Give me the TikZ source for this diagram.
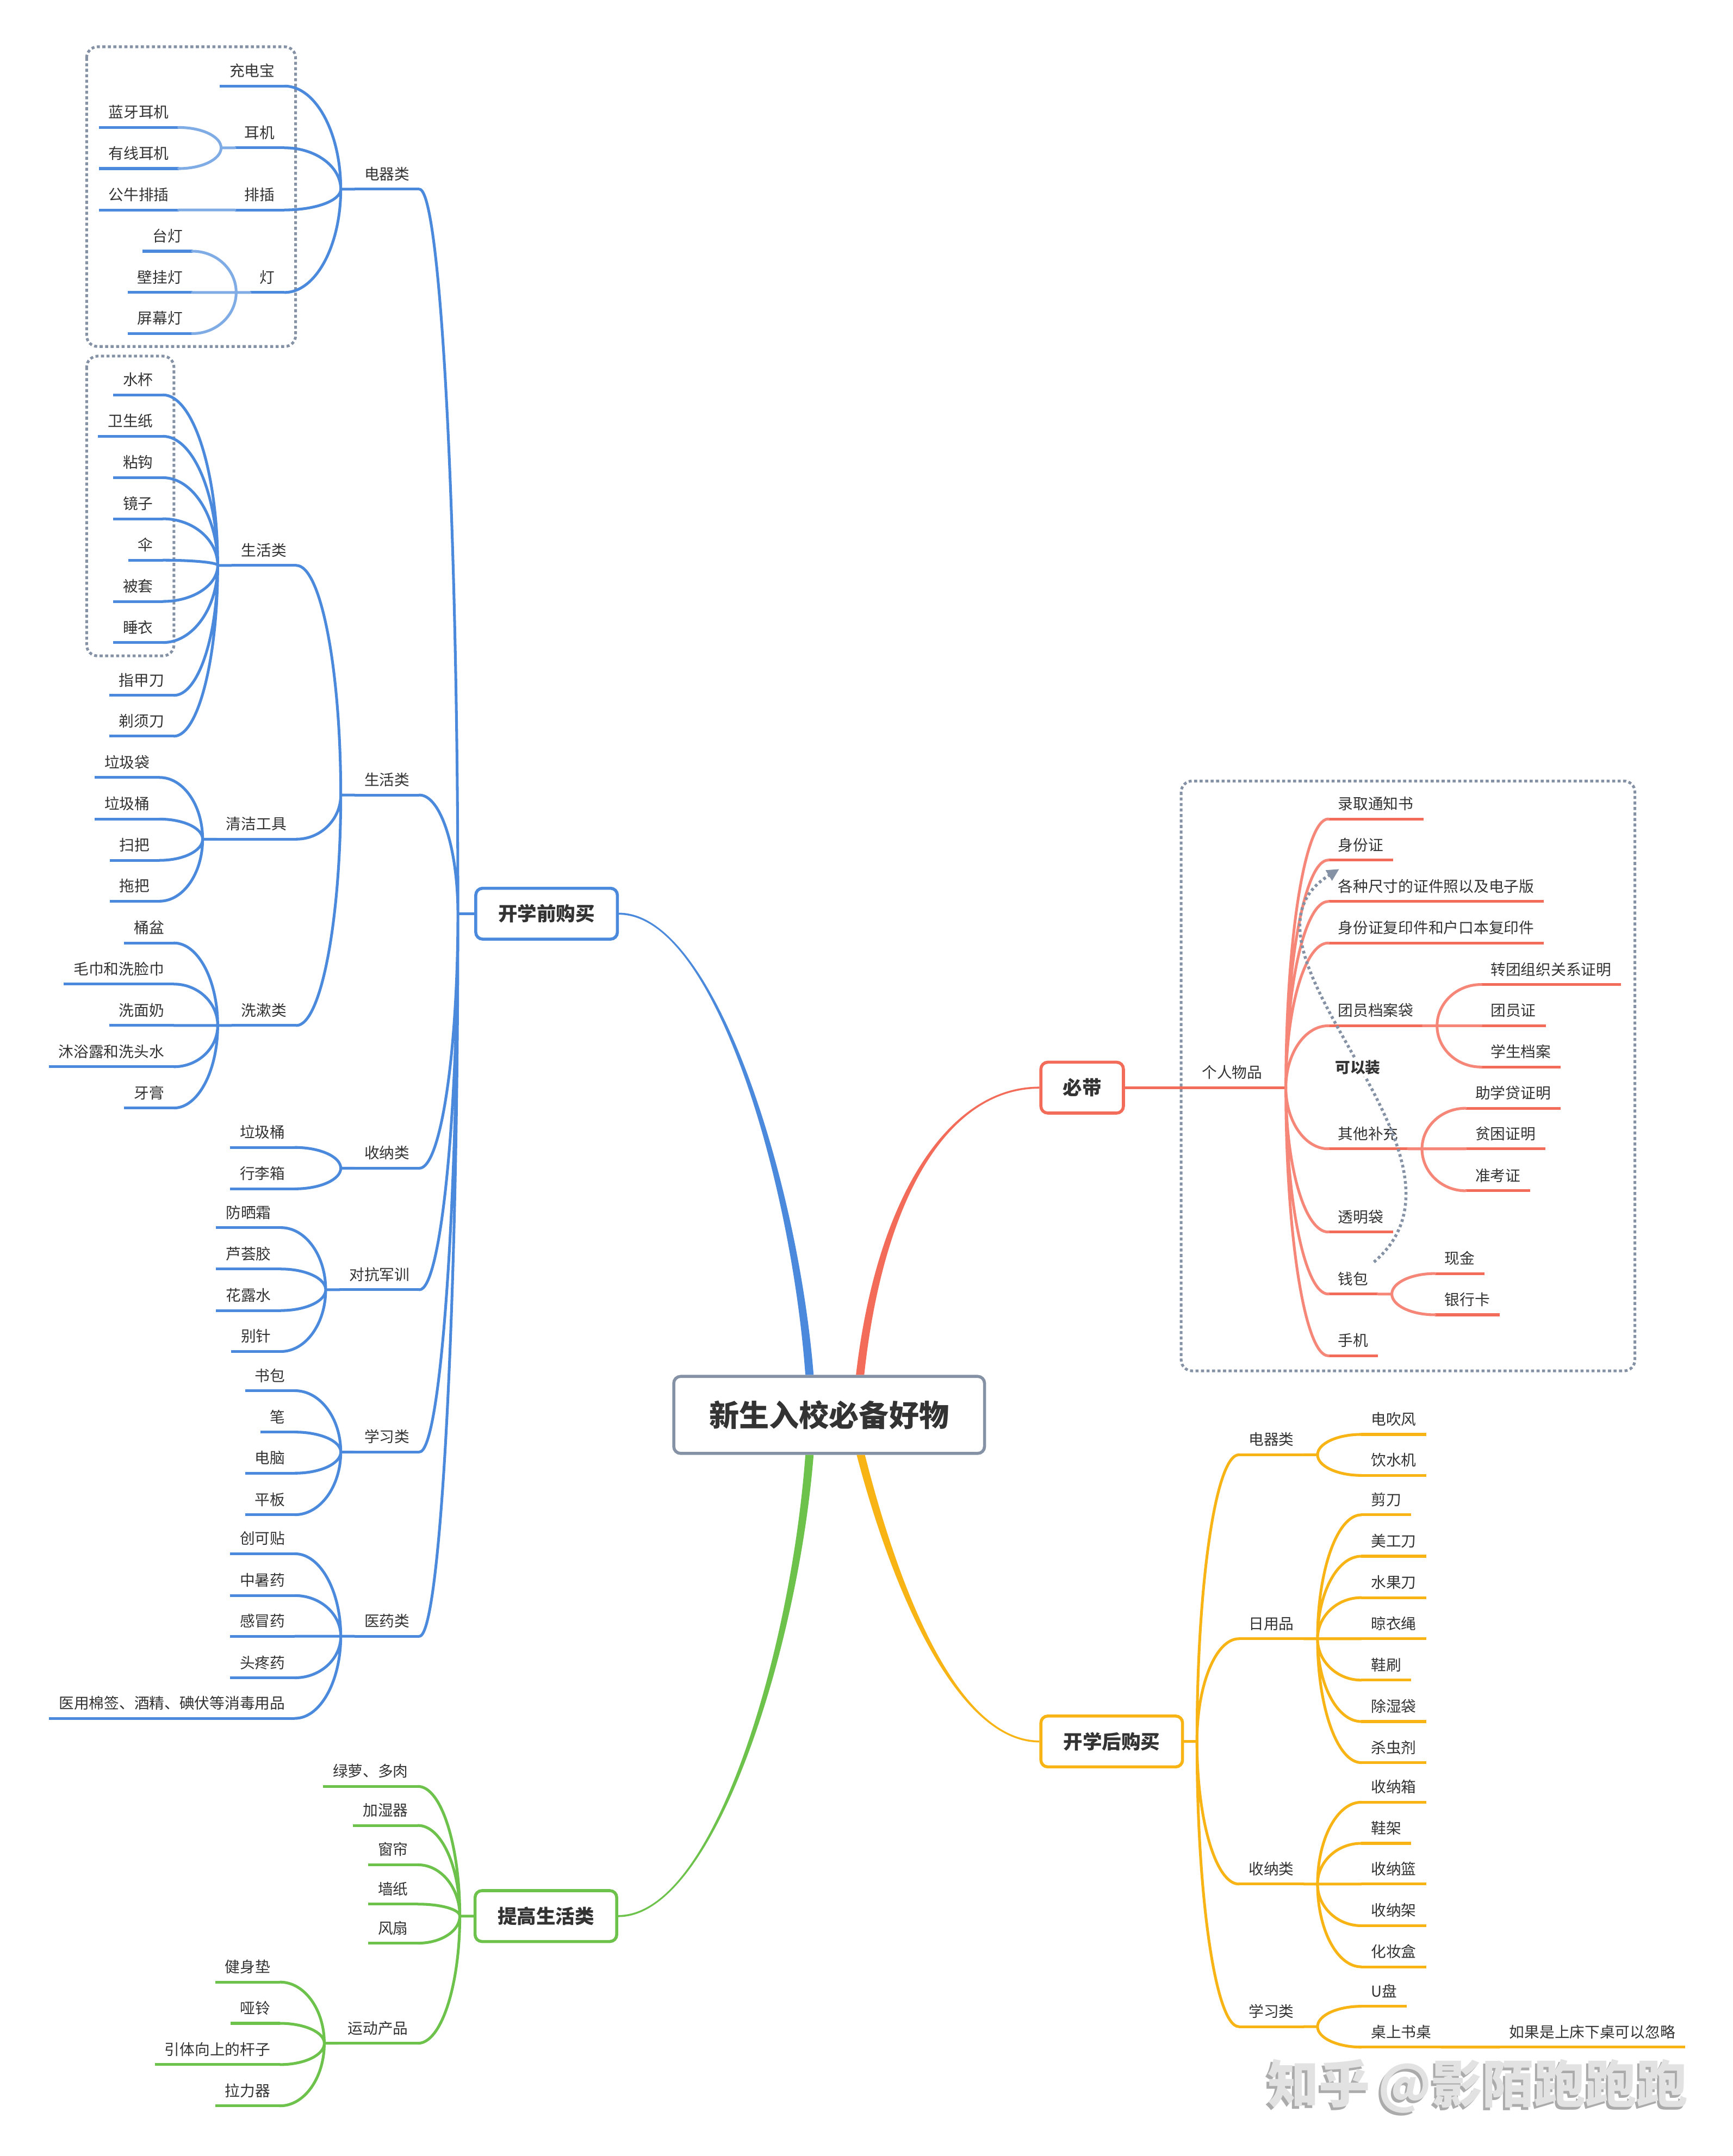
\documentclass[tikz,border=0pt]{standalone}
\usepackage{fontspec}
\setmainfont{Noto Sans CJK SC}
\usetikzlibrary{calc,arrows.meta}

\definecolor{ink}{HTML}{333333}
\definecolor{framegray}{HTML}{8592A6}
\definecolor{bluebr}{HTML}{4A89DC}
\definecolor{redbr}{HTML}{F36C5A}
\definecolor{yellowbr}{HTML}{F7B414}
\definecolor{greenbr}{HTML}{6CC24A}
\colorlet{bluesoft}{bluebr!70!white}
\colorlet{redsoft}{redbr!82!white}
\definecolor{markface}{HTML}{E2E2E2}
\definecolor{markshade}{HTML}{ABABAB}

\newcommand{\leaffont}{\fontsize{15.6}{18}\selectfont}

\tikzset{
  under/.style={draw=#1, line width=1mm},
  twig/.style={draw=#1, line width=1mm, line cap=round},
  leaf/.style={inner xsep=3.5mm, inner ysep=0pt, text height=4.6mm, text depth=3.4mm,
    text=ink, font=\leaffont,
    append after command={(\tikzlastnode.south west) edge[under=#1] (\tikzlastnode.south east)}},
  curvy/.style={to path={.. controls ($(\tikztostart)!0.55!(\tikztostart|-\tikztotarget)$)
    and ($(\tikztotarget)!0.55!(\tikztostart|-\tikztotarget)$) .. (\tikztotarget)}},
  mainbox/.style={draw=#1, line width=1.1mm, rounded corners=2.5mm, fill=white,
    minimum height=18.5mm, inner sep=0pt, text=ink, font=\fontsize{20}{24}\selectfont\bfseries},
  rootbox/.style={draw=framegray, line width=1.1mm, rounded corners=2.5mm, fill=white,
    minimum width=113mm, minimum height=28mm, inner sep=0pt, text=ink,
    font=\fontsize{31}{36}\selectfont\bfseries},
  boundary/.style={draw=framegray, line width=1mm, dash pattern=on 1.1mm off 0.9mm, rounded corners=4mm},
  relation/.style={draw=framegray, line width=1.1mm, dash pattern=on 1mm off 1mm,
    -{Triangle[length=4.5mm,width=4.2mm]}},
  mark/.style={font=\fontsize{53}{60}\selectfont\bfseries, text=#1}
}

\begin{document}
\begin{tikzpicture}[x=0.5mm, y=-0.5mm]
\fill[white] (0,0) rectangle (1260,1568);
\useasboundingbox (0,0) rectangle (1260,1568);

% dotted frames
\draw[boundary] (63,34) rectangle (215,252);
\draw[boundary] (63,259) rectangle (126.5,477);
\draw[boundary] (859,568) rectangle (1189,997);

% centre and main topics
\node[rootbox] (root) at (603,1029) {新生入校必备好物};
\node[mainbox=bluebr, minimum width=51.5mm] (pre) at (397.5,664.5) {开学前购买};
\node[mainbox=redbr, minimum width=30mm] (bd) at (787,791) {必带};
\node[mainbox=yellowbr, minimum width=51.5mm] (hg) at (808.5,1266.5) {开学后购买};
\node[mainbox=greenbr, minimum width=51.5mm] (tg) at (397,1393.5) {提高生活类};

% tapered trunks
\fill[bluebr] ($(root.north)+(-17.3,0)$) .. controls (575.5,860) and (520,665.2) .. ($(pre.east)+(0,0.7)$)
  -- ($(pre.east)+(0,-0.7)$) .. controls (520,663.8) and (580.5,860) .. ($(root.north)+(-11.3,0)$) -- cycle;
\fill[redbr] ($(root.north)+(19.5,0)$) .. controls (637.5,870) and (690,790.3) .. ($(bd.west)+(0,-0.7)$)
  -- ($(bd.west)+(0,0.7)$) .. controls (690,791.7) and (642.5,870) .. ($(root.north)+(25.5,0)$) -- cycle;
\fill[yellowbr] ($(root.south)+(26,0)$) .. controls (657.5,1170) and (700,1265.8) .. ($(hg.west)+(0,-0.7)$)
  -- ($(hg.west)+(0,0.7)$) .. controls (700,1267.2) and (652.5,1170) .. ($(root.south)+(20,0)$) -- cycle;
\fill[greenbr] ($(root.south)+(-11.3,0)$) .. controls (580.5,1198) and (520,1394.2) .. ($(tg.east)+(0,0.7)$)
  -- ($(tg.east)+(0,-0.7)$) .. controls (520,1392.8) and (575.5,1198) .. ($(root.south)+(-17.3,0)$) -- cycle;

% ---------- 开学前购买 ----------
\coordinate (preJ) at (333,664.5);
\node[leaf=bluebr, anchor=south east] (dqc) at (305,137.6) {电器类};
\node[leaf=bluebr, anchor=south east] (shc) at (305,578.2) {生活类};
\node[leaf=bluebr, anchor=south east] (snc) at (305,849.6) {收纳类};
\node[leaf=bluebr, anchor=south east] (dkc) at (305,938) {对抗军训};
\node[leaf=bluebr, anchor=south east] (xxc) at (305,1056) {学习类};
\node[leaf=bluebr, anchor=south east] (yyc) at (305,1190) {医药类};
\draw[twig=bluebr] (pre.west) -- (preJ)
  (preJ) to[curvy] (dqc.south east) (preJ) to[curvy] (shc.south east)
  (preJ) to[curvy] (snc.south east) (preJ) to[curvy] (dkc.south east)
  (preJ) to[curvy] (xxc.south east) (preJ) to[curvy] (yyc.south east);

% 电器类
\node[leaf=bluebr, anchor=south east] (cdb) at (207,62.6) {充电宝};
\node[leaf=bluebr, anchor=south east] (ej) at (207,107.5) {耳机};
\node[leaf=bluebr, anchor=south east] (pc) at (207,152.7) {排插};
\node[leaf=bluebr, anchor=south east] (dg) at (207,212.7) {灯};
\node[leaf=bluebr, anchor=south east] (lyej) at (130,92.7) {蓝牙耳机};
\node[leaf=bluebr, anchor=south east] (yxej) at (130,122.6) {有线耳机};
\node[leaf=bluebr, anchor=south east] (gnpc) at (130,152.7) {公牛排插};
\node[leaf=bluebr, anchor=south east] (tdg) at (140,182.7) {台灯};
\node[leaf=bluebr, anchor=south east] (bgd) at (140,212.7) {壁挂灯};
\node[leaf=bluebr, anchor=south east] (pmd) at (140,242.6) {屏幕灯};
\coordinate (dqJ) at ([xshift=-5mm]dqc.south west);
\coordinate (ejJ) at ([xshift=-5mm]ej.south west);
\coordinate (pcJ) at ([xshift=-5mm]pc.south west);
\coordinate (dgJ) at ([xshift=-5mm]dg.south west);
\draw[twig=bluebr] (dqc.south west) -- (dqJ)
  (dqJ) to[curvy] (cdb.south east) (dqJ) to[curvy] (ej.south east)
  (dqJ) to[curvy] (pc.south east) (dqJ) to[curvy] (dg.south east);
\draw[twig=bluesoft] (ej.south west) -- (ejJ)
  (ejJ) to[curvy] (lyej.south east) (ejJ) to[curvy] (yxej.south east)
  (pc.south west) -- (pcJ) to[curvy] (gnpc.south east)
  (dg.south west) -- (dgJ)
  (dgJ) to[curvy] (tdg.south east) (dgJ) to[curvy] (bgd.south east) (dgJ) to[curvy] (pmd.south east);

% 生活类
\node[leaf=bluebr, anchor=south east] (shs) at (215.5,411.2) {生活类};
\node[leaf=bluebr, anchor=south east] (qj) at (215.5,610.3) {清洁工具};
\node[leaf=bluebr, anchor=south east] (xs) at (215.5,745.8) {洗漱类};
\coordinate (shcJ) at ([xshift=-5mm]shc.south west);
\draw[twig=bluebr] (shc.south west) -- (shcJ)
  (shcJ) to[curvy] (shs.south east) (shcJ) to[curvy] (qj.south east) (shcJ) to[curvy] (xs.south east);

\node[leaf=bluebr, anchor=south east] (sb) at (118.5,287.2) {水杯};
\node[leaf=bluebr, anchor=south east] (wsz) at (118.5,317.3) {卫生纸};
\node[leaf=bluebr, anchor=south east] (zg) at (118.5,347.4) {粘钩};
\node[leaf=bluebr, anchor=south east] (jzi) at (118.5,377.3) {镜子};
\node[leaf=bluebr, anchor=south east] (san) at (118.5,407.4) {伞};
\node[leaf=bluebr, anchor=south east] (btao) at (118.5,437.4) {被套};
\node[leaf=bluebr, anchor=south east] (syi) at (118.5,467.3) {睡衣};
\node[leaf=bluebr, anchor=south east] (zjd) at (126.5,505.7) {指甲刀};
\node[leaf=bluebr, anchor=south east] (txd) at (126.5,535.4) {剃须刀};
\coordinate (shsJ) at ([xshift=-5mm]shs.south west);
\draw[twig=bluebr] (shs.south west) -- (shsJ)
  (shsJ) to[curvy] (sb.south east) (shsJ) to[curvy] (wsz.south east)
  (shsJ) to[curvy] (zg.south east) (shsJ) to[curvy] (jzi.south east)
  (shsJ) to[curvy] (san.south east) (shsJ) to[curvy] (btao.south east)
  (shsJ) to[curvy] (syi.south east) (shsJ) to[curvy] (zjd.south east)
  (shsJ) to[curvy] (txd.south east);

\node[leaf=bluebr, anchor=south east] (ljd) at (116,565.4) {垃圾袋};
\node[leaf=bluebr, anchor=south east] (ljt) at (116,595.7) {垃圾桶};
\node[leaf=bluebr, anchor=south east] (sbz) at (116,625.7) {扫把};
\node[leaf=bluebr, anchor=south east] (tbz) at (116,655.4) {拖把};
\coordinate (qjJ) at ([xshift=-5mm]qj.south west);
\draw[twig=bluebr] (qj.south west) -- (qjJ)
  (qjJ) to[curvy] (ljd.south east) (qjJ) to[curvy] (ljt.south east)
  (qjJ) to[curvy] (sbz.south east) (qjJ) to[curvy] (tbz.south east);

\node[leaf=bluebr, anchor=south east] (tp) at (126.5,685.8) {桶盆};
\node[leaf=bluebr, anchor=south east] (mj) at (126.5,715.7) {毛巾和洗脸巾};
\node[leaf=bluebr, anchor=south east] (xmn) at (126.5,745.8) {洗面奶};
\node[leaf=bluebr, anchor=south east] (myl) at (126.5,775.8) {沐浴露和洗头水};
\node[leaf=bluebr, anchor=south east] (yg) at (126.5,805.8) {牙膏};
\coordinate (xsJ) at ([xshift=-5mm]xs.south west);
\draw[twig=bluebr] (xs.south west) -- (xsJ)
  (xsJ) to[curvy] (tp.south east) (xsJ) to[curvy] (mj.south east)
  (xsJ) to[curvy] (xmn.south east) (xsJ) to[curvy] (myl.south east)
  (xsJ) to[curvy] (yg.south east);

% 收纳类
\node[leaf=bluebr, anchor=south east] (sljt) at (214.5,834.5) {垃圾桶};
\node[leaf=bluebr, anchor=south east] (xlx) at (214.5,864.6) {行李箱};
\coordinate (sncJ) at ([xshift=-5mm]snc.south west);
\draw[twig=bluebr] (snc.south west) -- (sncJ)
  (sncJ) to[curvy] (sljt.south east) (sncJ) to[curvy] (xlx.south east);

% 对抗军训
\node[leaf=bluebr, anchor=south east] (fsh) at (204.3,892.8) {防晒霜};
\node[leaf=bluebr, anchor=south east] (lhj) at (204.3,922.9) {芦荟胶};
\node[leaf=bluebr, anchor=south east] (hls) at (204.3,953.1) {花露水};
\node[leaf=bluebr, anchor=south east] (bzh) at (204.3,982.9) {别针};
\coordinate (dkcJ) at ([xshift=-5mm]dkc.south west);
\draw[twig=bluebr] (dkc.south west) -- (dkcJ)
  (dkcJ) to[curvy] (fsh.south east) (dkcJ) to[curvy] (lhj.south east)
  (dkcJ) to[curvy] (hls.south east) (dkcJ) to[curvy] (bzh.south east);

% 学习类
\node[leaf=bluebr, anchor=south east] (shb) at (214.5,1011.4) {书包};
\node[leaf=bluebr, anchor=south east] (bi) at (214.5,1041.5) {笔};
\node[leaf=bluebr, anchor=south east] (dn) at (214.5,1071.4) {电脑};
\node[leaf=bluebr, anchor=south east] (pbn) at (214.5,1101.6) {平板};
\coordinate (xxcJ) at ([xshift=-5mm]xxc.south west);
\draw[twig=bluebr] (xxc.south west) -- (xxcJ)
  (xxcJ) to[curvy] (shb.south east) (xxcJ) to[curvy] (bi.south east)
  (xxcJ) to[curvy] (dn.south east) (xxcJ) to[curvy] (pbn.south east);

% 医药类
\node[leaf=bluebr, anchor=south east] (ckt) at (214.5,1130) {创可贴};
\node[leaf=bluebr, anchor=south east] (zsy) at (214.5,1160.4) {中暑药};
\node[leaf=bluebr, anchor=south east] (gmy) at (214.5,1190) {感冒药};
\node[leaf=bluebr, anchor=south east] (tty) at (214.5,1220.2) {头疼药};
\node[leaf=bluebr, anchor=south east] (xdyp) at (214.5,1249.7) {医用棉签、酒精、碘伏等消毒用品};
\coordinate (yycJ) at ([xshift=-5mm]yyc.south west);
\draw[twig=bluebr] (yyc.south west) -- (yycJ)
  (yycJ) to[curvy] (ckt.south east) (yycJ) to[curvy] (zsy.south east)
  (yycJ) to[curvy] (gmy.south east) (yycJ) to[curvy] (tty.south east)
  (yycJ) to[curvy] (xdyp.south east);

% ---------- 提高生活类 ----------
\coordinate (tgJ) at (334.4,1393.5);
\node[leaf=greenbr, anchor=south east] (ll) at (304,1299.2) {绿萝、多肉};
\node[leaf=greenbr, anchor=south east] (jsq) at (304,1327.6) {加湿器};
\node[leaf=greenbr, anchor=south east] (cl) at (304,1356.2) {窗帘};
\node[leaf=greenbr, anchor=south east] (qzh) at (304,1384.8) {墙纸};
\node[leaf=greenbr, anchor=south east] (fsn) at (304,1413.2) {风扇};
\node[leaf=greenbr, anchor=south east] (ydc) at (304,1486) {运动产品};
\draw[twig=greenbr] (tg.west) -- (tgJ)
  (tgJ) to[curvy] (ll.south east) (tgJ) to[curvy] (jsq.south east)
  (tgJ) to[curvy] (cl.south east) (tgJ) to[curvy] (qzh.south east)
  (tgJ) to[curvy] (fsn.south east) (tgJ) to[curvy] (ydc.south east);
\node[leaf=greenbr, anchor=south east] (jsd) at (203.7,1441.5) {健身垫};
\node[leaf=greenbr, anchor=south east] (yl) at (203.7,1471.5) {哑铃};
\node[leaf=greenbr, anchor=south east] (ytg) at (203.7,1501.5) {引体向上的杆子};
\node[leaf=greenbr, anchor=south east] (llq) at (203.7,1531.5) {拉力器};
\coordinate (ydcJ) at ([xshift=-5mm]ydc.south west);
\draw[twig=greenbr] (ydc.south west) -- (ydcJ)
  (ydcJ) to[curvy] (jsd.south east) (ydcJ) to[curvy] (yl.south east)
  (ydcJ) to[curvy] (ytg.south east) (ydcJ) to[curvy] (llq.south east);

% ---------- 必带 ----------
\node[leaf=redbr, anchor=south west] (grwp) at (867,791) {个人物品};
\coordinate (grJ) at ([xshift=5mm]grwp.south east);
\draw[twig=redbr] (bd.east) -- (grJ);
\node[leaf=redbr, anchor=south west] (lqtz) at (966,595.6) {录取通知书};
\node[leaf=redbr, anchor=south west] (sfz) at (966,625.5) {身份证};
\node[leaf=redbr, anchor=south west] (zjz) at (966,655.6) {各种尺寸的证件照以及电子版};
\node[leaf=redbr, anchor=south west] (fyj) at (966,685.8) {身份证复印件和户口本复印件};
\node[leaf=redbr, anchor=south west] (tyda) at (966,746) {团员档案袋};
\node[leaf=redbr, anchor=south west] (qtbc) at (966,835.5) {其他补充};
\node[leaf=redbr, anchor=south west] (tmd) at (966,896) {透明袋};
\node[leaf=redbr, anchor=south west] (qb) at (966,941.1) {钱包};
\node[leaf=redbr, anchor=south west] (sj) at (966,986) {手机};
\draw[twig=redsoft] (grJ) to[curvy] (lqtz.south west) (grJ) to[curvy] (sfz.south west)
  (grJ) to[curvy] (zjz.south west) (grJ) to[curvy] (fyj.south west)
  (grJ) to[curvy] (tyda.south west) (grJ) to[curvy] (qtbc.south west)
  (grJ) to[curvy] (tmd.south west) (grJ) to[curvy] (qb.south west)
  (grJ) to[curvy] (sj.south west);

\node[leaf=redbr, anchor=south west] (ztzm) at (1077,716) {转团组织关系证明};
\node[leaf=redbr, anchor=south west] (tyz) at (1077,746) {团员证};
\node[leaf=redbr, anchor=south west] (xsda) at (1077,776) {学生档案};
\coordinate (tydaJ) at ([xshift=5mm]tyda.south east);
\draw[twig=redsoft] (tyda.south east) -- (tydaJ)
  (tydaJ) to[curvy] (ztzm.south west) (tydaJ) to[curvy] (tyz.south west) (tydaJ) to[curvy] (xsda.south west);

\node[leaf=redbr, anchor=south west] (zxd) at (1065.8,806) {助学贷证明};
\node[leaf=redbr, anchor=south west] (pkzm) at (1065.8,835.5) {贫困证明};
\node[leaf=redbr, anchor=south west] (zkz) at (1065.8,866) {准考证};
\coordinate (qtbcJ) at ([xshift=5mm]qtbc.south east);
\draw[twig=redsoft] (qtbc.south east) -- (qtbcJ)
  (qtbcJ) to[curvy] (zxd.south west) (qtbcJ) to[curvy] (pkzm.south west) (qtbcJ) to[curvy] (zkz.south west);

\node[leaf=redbr, anchor=south west] (xjin) at (1043.5,926.2) {现金};
\node[leaf=redbr, anchor=south west] (yhk) at (1043.5,956.2) {银行卡};
\coordinate (qbJ) at ([xshift=5mm]qb.south east);
\draw[twig=redsoft] (qb.south east) -- (qbJ)
  (qbJ) to[curvy] (xjin.south west) (qbJ) to[curvy] (yhk.south west);

% relationship 钱包 -> 身份证
\draw[relation] ($(qb.north east)+(-3,-7)$) .. controls (1090,840) and (880,690) .. ($(sfz.south west)+(8,6.5)$);
\node[fill=white, inner sep=0.6mm, text=ink, font=\leaffont\bfseries] (kyz) at (987.5,776.5) {可以装};

% ---------- 开学后购买 ----------
\coordinate (hgJ) at (870.5,1266.5);
\node[leaf=yellowbr, anchor=south west] (ydq) at (901,1058) {电器类};
\node[leaf=yellowbr, anchor=south west] (yrp) at (901,1191.8) {日用品};
\node[leaf=yellowbr, anchor=south west] (ysn) at (901,1370.2) {收纳类};
\node[leaf=yellowbr, anchor=south west] (yxx) at (901,1473.9) {学习类};
\draw[twig=yellowbr] (hg.east) -- (hgJ)
  (hgJ) to[curvy] (ydq.south west) (hgJ) to[curvy] (yrp.south west)
  (hgJ) to[curvy] (ysn.south west) (hgJ) to[curvy] (yxx.south west);

\node[leaf=yellowbr, anchor=south west] (dcf) at (990,1043.2) {电吹风};
\node[leaf=yellowbr, anchor=south west] (ysj) at (990,1073) {饮水机};
\coordinate (ydqJ) at ([xshift=5mm]ydq.south east);
\draw[twig=yellowbr] (ydq.south east) -- (ydqJ)
  (ydqJ) to[curvy] (dcf.south west) (ydqJ) to[curvy] (ysj.south west);

\node[leaf=yellowbr, anchor=south west] (jd) at (990,1101.7) {剪刀};
\node[leaf=yellowbr, anchor=south west] (mgd) at (990,1131.8) {美工刀};
\node[leaf=yellowbr, anchor=south west] (sgd) at (990,1161.9) {水果刀};
\node[leaf=yellowbr, anchor=south west] (lys) at (990,1191.8) {晾衣绳};
\node[leaf=yellowbr, anchor=south west] (xsh) at (990,1221.9) {鞋刷};
\node[leaf=yellowbr, anchor=south west] (csd) at (990,1252) {除湿袋};
\node[leaf=yellowbr, anchor=south west] (scj) at (990,1281.9) {杀虫剂};
\coordinate (yrpJ) at ([xshift=5mm]yrp.south east);
\draw[twig=yellowbr] (yrp.south east) -- (yrpJ)
  (yrpJ) to[curvy] (jd.south west) (yrpJ) to[curvy] (mgd.south west)
  (yrpJ) to[curvy] (sgd.south west) (yrpJ) to[curvy] (lys.south west)
  (yrpJ) to[curvy] (xsh.south west) (yrpJ) to[curvy] (csd.south west)
  (yrpJ) to[curvy] (scj.south west);

\node[leaf=yellowbr, anchor=south west] (snx) at (990,1310.7) {收纳箱};
\node[leaf=yellowbr, anchor=south west] (xjia) at (990,1340.6) {鞋架};
\node[leaf=yellowbr, anchor=south west] (snl) at (990,1370.2) {收纳篮};
\node[leaf=yellowbr, anchor=south west] (snj) at (990,1400.5) {收纳架};
\node[leaf=yellowbr, anchor=south west] (hzh) at (990,1430.4) {化妆盒};
\coordinate (ysnJ) at ([xshift=5mm]ysn.south east);
\draw[twig=yellowbr] (ysn.south east) -- (ysnJ)
  (ysnJ) to[curvy] (snx.south west) (ysnJ) to[curvy] (xjia.south west)
  (ysnJ) to[curvy] (snl.south west) (ysnJ) to[curvy] (snj.south west)
  (ysnJ) to[curvy] (hzh.south west);

\node[leaf=yellowbr, anchor=south west] (upan) at (990,1459.1) {U盘};
\node[leaf=yellowbr, anchor=south west] (zszs) at (990,1488.8) {桌上书桌};
\node[leaf=yellowbr, anchor=south west] (hlue) at (1090.6,1488.8) {如果是上床下桌可以忽略};
\coordinate (yxxJ) at ([xshift=5mm]yxx.south east);
\draw[twig=yellowbr] (yxx.south east) -- (yxxJ)
  (yxxJ) to[curvy] (upan.south west) (yxxJ) to[curvy] (zszs.south west)
  (zszs.south east) -- (hlue.south west);

% watermark
\node[mark=markshade] (wmshade) at (1073,1519) {知乎\hspace{3mm}@影陌跑跑跑};
\node[mark=markface] (wmface) at ($(wmshade)+(1.6,-1.6)$) {知乎\hspace{3mm}@影陌跑跑跑};
\end{tikzpicture}
\end{document}
